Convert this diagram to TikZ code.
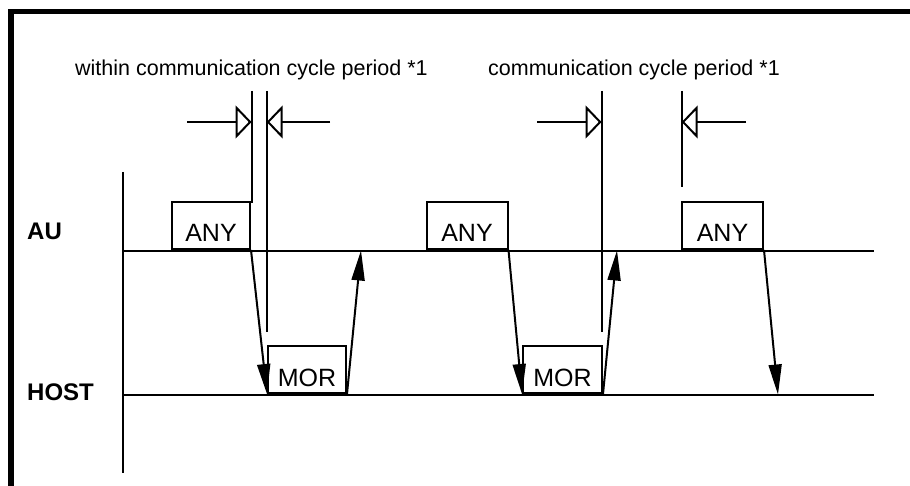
\documentclass[tikz,border=0pt]{standalone}
\usepackage{fontspec}
\setmainfont{Liberation Sans}
\usetikzlibrary{arrows.meta}
\begin{document}
\begin{tikzpicture}[x=1pt,y=-1pt,
  ln/.style={line width=2pt},
  msgbox/.style={draw,line width=2pt,inner sep=0pt,minimum height=47pt,
     text height=33pt,text depth=0pt,font=\fontsize{25}{28}\selectfont},
  lanelabel/.style={anchor=base west,inner sep=0pt,font=\fontsize{24}{28}\selectfont\bfseries},
  caption/.style={anchor=base west,inner sep=0pt,font=\fontsize{21.5}{24}\selectfont},
  msg/.style={line width=2pt,-{Triangle[length=30pt,width=13pt]}},
  marker/.style={line width=2pt,-{Triangle[open,length=16pt,width=33pt,line width=2pt]}}
]
\useasboundingbox (0,0) rectangle (910,486);
% frame
\draw[line width=5.5pt,line join=miter] (11,500) -- (11,11.5) -- (930,11.5);

% captions
\node[caption] (cap1) at (75,76) {within communication cycle period *1};
\node[caption] (cap2) at (488,76) {communication cycle period *1};

% lane labels
\node[lanelabel] (au) at (27,240) {AU};
\node[lanelabel] (host) at (27,400) {HOST};

% axes
\coordinate (axt) at (123,172);
\coordinate (axb) at (123,473);
\draw[ln] (axt) -- (axb);
\coordinate (aul) at (123,251.3);
\coordinate (aur) at (874,251.3);
\coordinate (hol) at (123,395.3);
\coordinate (hor) at (874,395.3);
\draw[ln] (aul) -- (aur);
\draw[ln] (hol) -- (hor);

% message boxes
\node[msgbox,minimum width=78pt,anchor=south west] (any1) at (171,250) {ANY};
\node[msgbox,minimum width=81pt,anchor=south west] (any2) at (425.5,250) {ANY};
\node[msgbox,minimum width=81pt,anchor=south west] (any3) at (681,250) {ANY};
\node[msgbox,minimum width=78pt,anchor=south west] (mor1) at (267,394) {MOR};
\node[msgbox,minimum width=79pt,anchor=south west] (mor2) at (522,394) {MOR};

% vertical markers
\coordinate (v1t) at (251.5,91);
\coordinate (v1b) at (251.5,203);
\coordinate (v2t) at (266.7,91);
\coordinate (v2b) at (266.7,332);
\coordinate (v3t) at (601.5,91);
\coordinate (v3b) at (601.5,332);
\coordinate (v4t) at (681.7,91);
\coordinate (v4b) at (681.7,187);
\draw[ln] (v1t) -- (v1b);
\draw[ln] (v2t) -- (v2b);
\draw[ln] (v3t) -- (v3b);
\draw[ln] (v4t) -- (v4b);

% period markers
\coordinate (m1s) at (187,122);   \coordinate (m1e) at (251.5,122);
\coordinate (m2s) at (330,122);   \coordinate (m2e) at (266.7,122);
\coordinate (m3s) at (537,122);   \coordinate (m3e) at (601.5,122);
\coordinate (m4s) at (746,122);   \coordinate (m4e) at (681.7,122);
\draw[marker] (m1s) -- (m1e);
\draw[marker] (m2s) -- (m2e);
\draw[marker] (m3s) -- (m3e);
\draw[marker] (m4s) -- (m4e);

% messages
\coordinate (r1) at (361,250.5);
\coordinate (r2) at (617,250.5);
\coordinate (h3) at (778,394.5);
\draw[msg] (any1.south east) -- (mor1.south west);
\draw[msg] (mor1.south east) -- (r1);
\draw[msg] (any2.south east) -- (mor2.south west);
\draw[msg] (mor2.south east) -- (r2);
\draw[msg] (any3.south east) -- (h3);
\end{tikzpicture}
\end{document}
